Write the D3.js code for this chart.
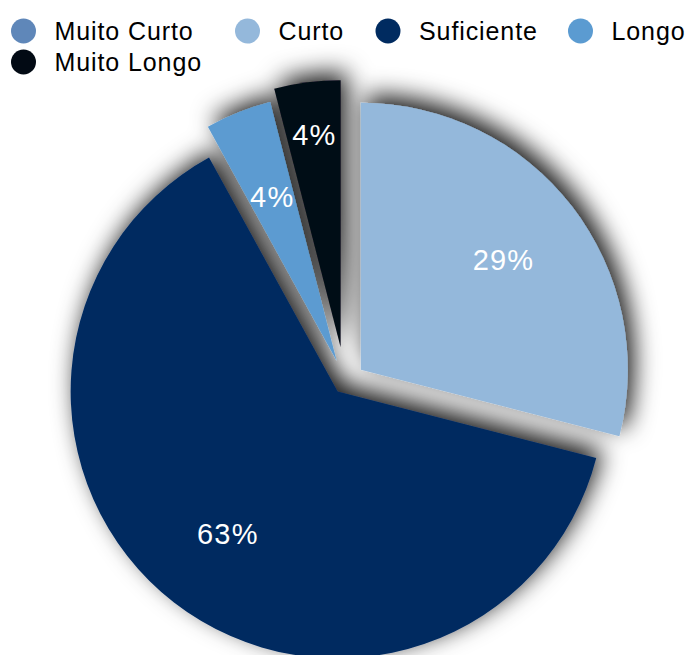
<!DOCTYPE html>
<html>
<head>
<meta charset="utf-8">
<script src="https://cdn.jsdelivr.net/npm/d3@7"></script>
<style>
  html, body { margin: 0; padding: 0; background: #fff; }
  svg { display: block; font-family: "Liberation Sans", Arial, Helvetica, sans-serif; }
</style>
</head>
<body>
<svg id="chart" width="687" height="655"></svg>
<script>
// Duração percebida — distribuição das respostas
const categories = ["Muito Curto", "Curto", "Suficiente", "Longo", "Muito Longo"];
const shares = [0, 29, 63, 4, 4];
const colors = ["#5f87b9", "#94b8db", "#002b60", "#5b9bd1", "#020a14"];

// Layout and styling
const W = 687, H = 655;
const center = { x: 345, y: 382 };
const radius = 267;
const explode = { "Muito Curto": 0, "Curto": 20, "Suficiente": 12, "Longo": 23, "Muito Longo": 35 };
const labelRadius = { "Curto": 180, "Suficiente": 180, "Longo": 176, "Muito Longo": 214 };
const legendX = [23.5, 247.5, 388, 580.5, 23.5];
const legendRow = [0, 0, 0, 0, 1];

const svg = d3.select("#chart");
const color = d3.scaleOrdinal().domain(categories).range(colors);

const data = categories.map((c, i) => ({ name: c, value: shares[i] }));

// Soft drop shadow shared by all slices
const defs = svg.append("defs");
const f = defs.append("filter").attr("id", "shadow")
  .attr("x", "-30%").attr("y", "-30%").attr("width", "160%").attr("height", "160%");
f.append("feGaussianBlur").attr("in", "SourceAlpha").attr("stdDeviation", 12).attr("result", "blur");
f.append("feOffset").attr("in", "blur").attr("dx", 6).attr("dy", -8).attr("result", "off");
f.append("feFlood").attr("flood-color", "#000").attr("flood-opacity", 0.9).attr("result", "fl");
f.append("feComposite").attr("in", "fl").attr("in2", "off").attr("operator", "in").attr("result", "sh");
const m = f.append("feMerge");
m.append("feMergeNode").attr("in", "sh");
m.append("feMergeNode").attr("in", "SourceGraphic");

const pie = d3.pie().value(d => d.value).sort(null).startAngle(0).endAngle(2 * Math.PI);
const arcs = pie(data).filter(d => d.data.value > 0);
const arc = d3.arc().innerRadius(0).outerRadius(radius);

const mid = d => (d.startAngle + d.endAngle) / 2;
const shift = d => {
  const a = mid(d), e = explode[d.data.name];
  return [center.x + Math.sin(a) * e, center.y - Math.cos(a) * e];
};

const pieG = svg.append("g").attr("filter", "url(#shadow)");
pieG.selectAll("path")
  .data(arcs)
  .join("path")
  .attr("transform", d => `translate(${shift(d)})`)
  .attr("d", arc)
  .attr("fill", d => color(d.data.name));

// Percentage labels
svg.append("g").selectAll("text")
  .data(arcs)
  .join("text")
  .attr("transform", d => {
    const [x, y] = shift(d);
    const a = mid(d), r = labelRadius[d.data.name];
    return `translate(${x + Math.sin(a) * r + 0.5},${y - Math.cos(a) * r})`;
  })
  .attr("text-anchor", "middle")
  .attr("dy", "0.36em")
  .attr("fill", "#fff")
  .attr("font-size", 29)
  .attr("letter-spacing", 1.2)
  .text(d => d.data.value + "%");

// Legend
const leg = svg.append("g").selectAll("g")
  .data(categories)
  .join("g")
  .attr("transform", (d, i) => `translate(${legendX[i]},${31 + legendRow[i] * 31})`);
leg.append("ellipse")
  .attr("rx", 12.5).attr("ry", 12.5)
  .attr("fill", d => color(d));
leg.append("text")
  .attr("x", 31)
  .attr("y", 8.5)
  .attr("font-size", 25)
  .attr("letter-spacing", 0.9)
  .attr("fill", "#000")
  .text(d => d);
</script>
</body>
</html>
